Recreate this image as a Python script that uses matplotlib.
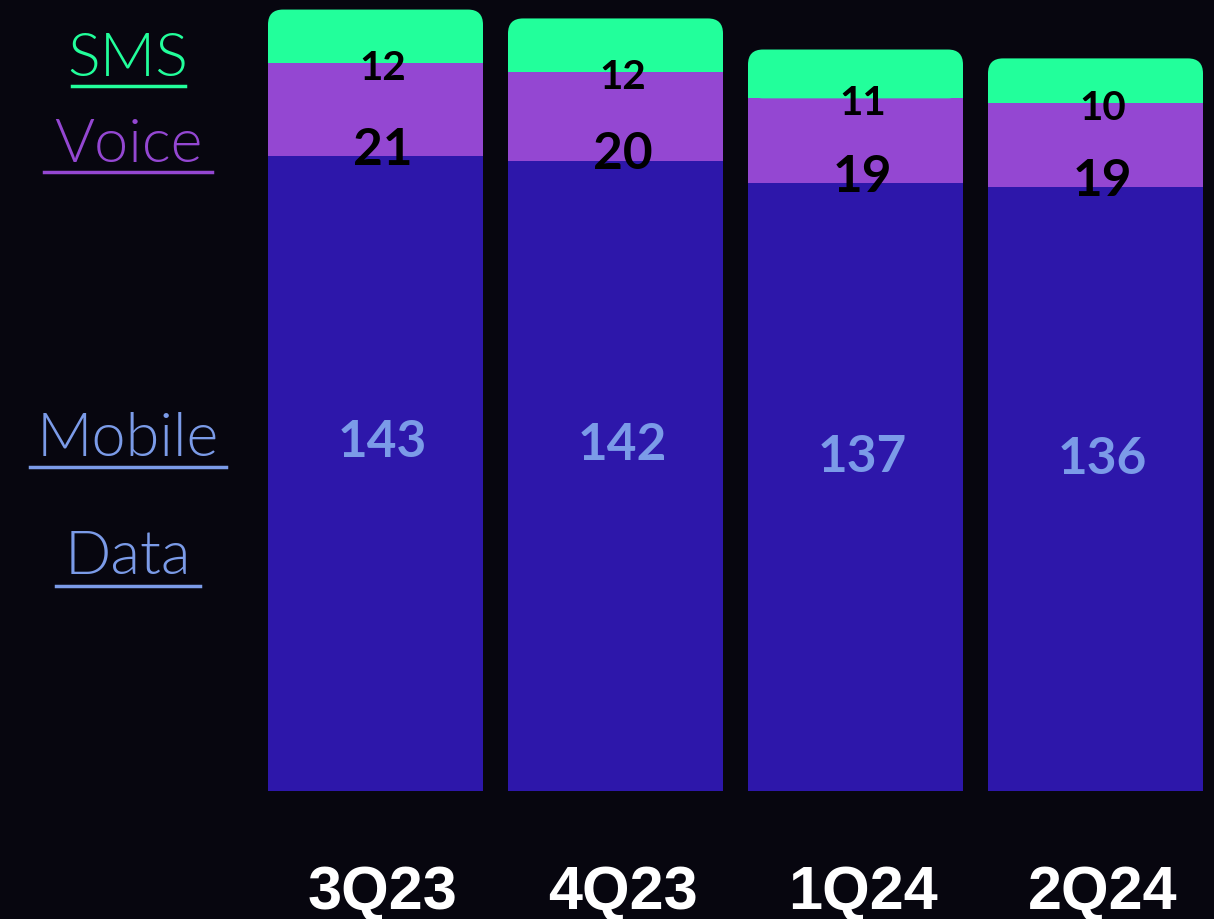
import matplotlib
matplotlib.use("Agg")
import matplotlib.pyplot as plt
from matplotlib.patches import FancyBboxPatch, Rectangle
from matplotlib.lines import Line2D

quarters = ["3Q23", "4Q23", "1Q24", "2Q24"]
data_vals = [143, 142, 137, 136]
voice_vals = [21, 20, 19, 19]
sms_vals = [12, 12, 11, 10]

BG = "#07060f"
DATA_C = "#2d17aa"
VOICE_C = "#9447d2"
SMS_C = "#22ff9b"
DATA_TXT = "#7b9be8"

W, H = 1214, 920
fig = plt.figure(figsize=(W / 100, H / 100), dpi=100, facecolor=BG)
ax = fig.add_axes([0, 0, 1, 1])
ax.set_facecolor(BG)

px_per_x = 240.0
px_per_y = 4.44
ax.set_xlim(-375.5 / px_per_x, (W - 375.5) / px_per_x)
ax.set_ylim((792 - H) / px_per_y, 792 / px_per_y)
ax.axis("off")

x = list(range(len(quarters)))
width = 215 / px_per_x
voice_bottom = data_vals
sms_bottom = [d + v for d, v in zip(data_vals, voice_vals)]

ax.bar(x, data_vals, width=width, color=DATA_C, linewidth=0)
ax.bar(x, voice_vals, bottom=voice_bottom, width=width, color=VOICE_C, linewidth=0)
sms_bars = ax.bar(x, sms_vals, bottom=sms_bottom, width=width, color=SMS_C, linewidth=0)

# rounded tops on the SMS segment
radius = 15 / px_per_x
aspect = px_per_x / px_per_y
for rect in sms_bars:
    rect.set_visible(False)
    x0, y0 = rect.get_x(), rect.get_y()
    w, h = rect.get_width(), rect.get_height()
    ax.add_patch(FancyBboxPatch((x0, y0), w, h,
                                boxstyle=f"round,pad=0,rounding_size={radius}",
                                mutation_aspect=aspect, fc=SMS_C, ec="none"))
    ax.add_patch(Rectangle((x0, y0), w, h / 2, fc=SMS_C, ec="none"))

num_font = ["Lato", "DejaVu Sans"]
dx = 0.03  # labels sit slightly right of bar centre in the source
for i in x:
    ax.text(i + dx, data_vals[i] * 0.55, str(data_vals[i]), ha="center", va="center",
            color=DATA_TXT, fontsize=37, fontweight="bold", family=num_font)
    ax.text(i + dx, voice_bottom[i] + 1.5, str(voice_vals[i]), ha="center", va="center",
            color="black", fontsize=37, fontweight="bold", family=num_font)
    ax.text(i + dx, sms_bottom[i] - 1, str(sms_vals[i]), ha="center", va="center",
            color="black", fontsize=29, fontweight="bold", family=num_font)
    ax.text(i + dx, -26.3, quarters[i], ha="center", va="baseline", color="white",
            fontsize=44, fontweight="bold", family=["Liberation Sans", "DejaVu Sans"])

# left-hand series labels, underlined
legend = [("SMS", SMS_C, 60, 87, 72, 185),
          ("Voice", VOICE_C, 145, 173, 44, 212),
          ("Mobile", DATA_TXT, 440, 468, 30, 226),
          ("Data", DATA_TXT, 558, 587, 56, 200)]
for label, col, yc, yu, xl, xr in legend:
    fig.text(128 / W, 1 - yc / H, label, ha="center", va="center", color=col,
             fontsize=44, fontweight=300, family=["Lato", "DejaVu Sans"])
    fig.add_artist(Line2D([xl / W, xr / W], [1 - yu / H, 1 - yu / H],
                          color=col, linewidth=2.5, transform=fig.transFigure))

fig.savefig("out.png", dpi=100, facecolor=BG)
